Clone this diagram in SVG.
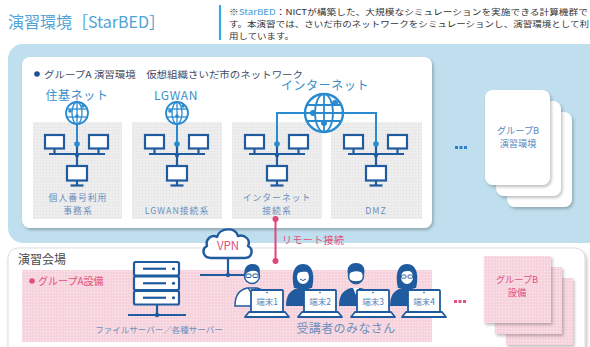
<svg xmlns="http://www.w3.org/2000/svg" width="590" height="347" viewBox="0 0 590 347">
  <defs>
    <style>
      text { font-family: "Noto Sans CJK JP", "Noto Sans", sans-serif; }
      .title { font-size: 16px; fill: #4fa3d6; }
      .note { font-size: 8.2px; fill: #333333; }
      .bullet { font-size: 9.6px; fill: #3b4a66; }
      .netname { font-size: 12px; fill: #3a8fcb; text-anchor: middle; letter-spacing: 0.6px; }
      .plabel { font-size: 8.8px; fill: #6b8fbd; text-anchor: middle; letter-spacing: 1px; }
      .card { font-size: 9.2px; fill: #5a86bd; text-anchor: middle; }
      .pink { fill: #e2507f; }
      .dark { stroke: #1f5b9e; stroke-width: 2.2; fill: #ffffff; }
      .darkline { stroke: #1f5b9e; stroke-width: 2.2; fill: none; }
      .lblue { stroke: #2a8ad0; stroke-width: 2; fill: none; }
      .term { font-size: 8.5px; fill: #4f7fb8; text-anchor: middle; }
    </style>
    <pattern id="dotGray" width="3" height="3" patternUnits="userSpaceOnUse">
      <rect width="3" height="3" fill="#eeeeee"/>
      <circle cx="1.5" cy="1.5" r="0.8" fill="#e2e2e2"/>
    </pattern>
    <pattern id="dotPink" width="3" height="3" patternUnits="userSpaceOnUse">
      <rect width="3" height="3" fill="#f6d2dc"/>
      <circle cx="1.5" cy="1.5" r="0.8" fill="#fbe8ee"/>
    </pattern>
    <filter id="shadow" x="-10%" y="-10%" width="130%" height="130%">
      <feDropShadow dx="1.5" dy="2" stdDeviation="1.5" flood-color="#000000" flood-opacity="0.25"/>
    </filter>
    <!-- three monitors on a bus, centred at x=0 -->
    <g id="lan">
      <line x1="0" y1="146" x2="0" y2="166" class="darkline"/>
      <line x1="-28" y1="154" x2="28" y2="154" class="darkline"/>
      <rect x="-32" y="135" width="19" height="13.5" class="dark"/>
      <line x1="-22.5" y1="148" x2="-22.5" y2="154" class="darkline"/>
      <rect x="12" y="135" width="19" height="13.5" class="dark"/>
      <line x1="21.5" y1="148" x2="21.5" y2="154" class="darkline"/>
      <circle cx="0" cy="155" r="2.2" fill="#1f5b9e"/>
      <rect x="-10" y="166" width="20" height="14.5" class="dark"/>
      <line x1="0" y1="180" x2="0" y2="185.5" class="darkline"/>
      <line x1="-6.5" y1="185.5" x2="6.5" y2="185.5" class="darkline"/>
      <circle cx="0" cy="144" r="2.8" fill="#2a8ad0"/>
    </g>
    <!-- small globe, centred at 0,0 -->
    <g id="globe">
      <circle r="11" fill="#ffffff" stroke="#2a8ad0" stroke-width="1.8"/>
      <ellipse rx="5" ry="11" fill="none" stroke="#2a8ad0" stroke-width="1.3"/>
      <line x1="0" y1="-11" x2="0" y2="11" stroke="#2a8ad0" stroke-width="1.3"/>
      <line x1="-10" y1="-4" x2="10" y2="-4" stroke="#2a8ad0" stroke-width="1.3"/>
      <line x1="-10" y1="4" x2="10" y2="4" stroke="#2a8ad0" stroke-width="1.3"/>
      <circle cx="-7" cy="-2" r="1.8" fill="#2a8ad0"/>
      <circle cx="6" cy="-7" r="1.8" fill="#2a8ad0"/>
      <circle cx="0" cy="3" r="1.8" fill="#2a8ad0"/>
    </g>
    <!-- laptop, screen top-left at 0,0 -->
    <g id="laptop">
      <rect x="0" y="0" width="32" height="22" rx="1" fill="#ffffff" stroke="#1f5b9e" stroke-width="1.8"/>
      <circle cx="16" cy="2.5" r="0.8" fill="#1f5b9e"/>
      <path d="M-2,22 L34,22 L38,27 L-6,27 Z" fill="#ffffff" stroke="#1f5b9e" stroke-width="1.8" stroke-linejoin="round"/>
    </g>
  </defs>

  <!-- heading -->
  <text x="8" y="28" class="title">演習環境［StarBED］</text>
  <line x1="220" y1="5" x2="220" y2="40" stroke="#3aa9dc" stroke-width="2.2"/>
  <text x="229" y="15" class="note" textLength="359" lengthAdjust="spacingAndGlyphs">※<tspan fill="#3a9ad8">StarBED</tspan>：NICTが構築した、大規模なシミュレーションを実施できる計算機群で</text>
  <text x="229" y="27" class="note" textLength="360" lengthAdjust="spacingAndGlyphs">す。本演習では、さいだ市のネットワークをシミュレーションし、演習環境として利</text>
  <text x="229" y="39" class="note" textLength="65" lengthAdjust="spacingAndGlyphs">用しています。</text>

  <!-- StarBED environment area -->
  <g id="starbed">
    <rect x="8" y="44" width="600" height="199" rx="15" fill="#bfdfee"/>
  </g>

  <g id="groupA-env">
    <rect x="22" y="57" width="410" height="171" rx="8" fill="#ffffff" filter="url(#shadow)"/>
    <circle cx="37" cy="74" r="2.8" fill="#1f4f94"/>
    <text x="44" y="78" class="bullet" textLength="259" lengthAdjust="spacingAndGlyphs">グループA 演習環境　仮想組織さいだ市のネットワーク</text>
  </g>

  <g id="seg-juki">
    <rect x="33" y="122" width="89" height="97" fill="url(#dotGray)"/>
    <text x="77" y="100" class="netname">住基ネット</text>
    <line x1="77" y1="124" x2="77" y2="144" class="lblue"/>
    <use href="#globe" x="77" y="113"/>
    <use href="#lan" x="77" y="0"/>
    <text x="78" y="200.5" class="plabel">個人番号利用</text>
    <text x="78" y="213.5" class="plabel">事務系</text>
  </g>

  <g id="seg-lgwan">
    <rect x="132" y="122" width="90" height="97" fill="url(#dotGray)"/>
    <text x="176" y="100" class="netname">LGWAN</text>
    <line x1="177" y1="124" x2="177" y2="144" class="lblue"/>
    <use href="#globe" x="177" y="113"/>
    <use href="#lan" x="177" y="0"/>
    <text x="177" y="213.5" class="plabel" letter-spacing="0.3">LGWAN接続系</text>
  </g>

  <g id="seg-inet">
    <rect x="232" y="122" width="90" height="97" fill="url(#dotGray)"/>
    <use href="#lan" x="277" y="0"/>
    <text x="277" y="200.5" class="plabel">インターネット</text>
    <text x="277" y="213.5" class="plabel">接続系</text>
  </g>

  <g id="seg-dmz">
    <rect x="331" y="122" width="91" height="97" fill="url(#dotGray)"/>
    <use href="#lan" x="376" y="0"/>
    <text x="376" y="213.5" class="plabel" letter-spacing="0.3">DMZ</text>
  </g>

  <g id="internet">
    <text x="325" y="90" class="netname">インターネット</text>
    <path d="M277,142 V113 H376 V142" class="lblue"/>
    <circle cx="324" cy="113" r="19" fill="#ffffff" stroke="#2a8ad0" stroke-width="2.4"/>
    <ellipse cx="324" cy="113" rx="9" ry="19" fill="none" stroke="#2a8ad0" stroke-width="1.8"/>
    <line x1="324" y1="94" x2="324" y2="132" stroke="#2a8ad0" stroke-width="1.8"/>
    <line x1="306" y1="105" x2="342" y2="105" stroke="#2a8ad0" stroke-width="1.8"/>
    <line x1="306" y1="121" x2="342" y2="121" stroke="#2a8ad0" stroke-width="1.8"/>
    <line x1="305" y1="113" x2="343" y2="113" stroke="#2a8ad0" stroke-width="1.8"/>
    <circle cx="313" cy="113" r="3" fill="#2a8ad0"/>
    <circle cx="335" cy="103" r="3" fill="#2a8ad0"/>
    <circle cx="324" cy="123" r="3" fill="#2a8ad0"/>
  </g>

  <!-- ellipsis between groups -->
  <g fill="#2e7fc8">
    <rect x="455" y="146" width="3" height="3"/>
    <rect x="459.5" y="146" width="3" height="3"/>
    <rect x="464" y="146" width="3" height="3"/>
  </g>

  <g id="groupB-env">
    <rect x="507" y="112" width="65" height="95" rx="8" fill="#ffffff" filter="url(#shadow)"/>
    <rect x="496" y="101" width="65" height="95" rx="8" fill="#ffffff" filter="url(#shadow)"/>
    <rect x="485" y="90" width="65" height="95" rx="8" fill="#ffffff" filter="url(#shadow)"/>
    <text x="518" y="133.5" class="card">グループB</text>
    <text x="518" y="147" class="card">演習環境</text>
  </g>

  <!-- venue area -->
  <g id="venue">
    <rect x="8" y="248" width="577" height="110" rx="10" fill="#ffffff" stroke="#dddddd" stroke-width="1" filter="url(#shadow)"/>
    <text x="18" y="264" font-size="12" fill="#4a4a4a">演習会場</text>
  </g>

  <g id="groupA-equip">
    <rect x="22" y="270" width="410" height="72" fill="url(#dotPink)"/>
    <circle cx="32" cy="281" r="2.8" fill="#e2507f"/>
    <text x="38" y="285" font-size="10" class="pink">グループA設備</text>
  </g>

  <g id="servers">
    <rect x="134" y="262" width="45" height="13.5" rx="1.5" class="dark"/>
    <rect x="134" y="276.5" width="45" height="13.5" rx="1.5" class="dark"/>
    <rect x="134" y="291" width="45" height="13.5" rx="1.5" class="dark"/>
    <line x1="143" y1="268.75" x2="166" y2="268.75" class="darkline"/>
    <line x1="143" y1="283.25" x2="166" y2="283.25" class="darkline"/>
    <line x1="143" y1="297.75" x2="166" y2="297.75" class="darkline"/>
    <circle cx="173.5" cy="268.75" r="1.6" fill="#1f5b9e"/>
    <circle cx="173.5" cy="283.25" r="1.6" fill="#1f5b9e"/>
    <circle cx="173.5" cy="297.75" r="1.6" fill="#1f5b9e"/>
    <line x1="157" y1="304.5" x2="157" y2="315" class="darkline"/>
    <line x1="128" y1="315" x2="186" y2="315" class="darkline"/>
    <circle cx="157" cy="315" r="2.2" fill="#1f5b9e"/>
    <text x="159" y="333" font-size="8.5" fill="#6b8fbd" text-anchor="middle">ファイルサーバー／各種サーバー</text>
  </g>

  <g id="vpn">
    <line x1="228" y1="257" x2="228" y2="275" class="darkline"/>
    <line x1="200" y1="275" x2="250" y2="275" class="darkline"/>
    <circle cx="228" cy="275" r="2.2" fill="#1f5b9e"/>
    <path d="M211,258 C203,258 201,249 207,246 C205,239 212,234 217,237 C219,228 235,226 238,236 C245,234 251,240 248,246 C254,249 252,258 245,258 Z" fill="#ffffff" stroke="#1f5b9e" stroke-width="2.4" stroke-linejoin="round"/>
    <text x="228" y="250" font-size="11.5" class="pink" text-anchor="middle">VPN</text>
  </g>

  <!-- connectors -->
  <g id="connectors">
    <line x1="275.5" y1="219" x2="275.5" y2="261" stroke="#e2457a" stroke-width="2"/>
    <circle cx="275.5" cy="219" r="3" fill="#e2457a"/>
    <circle cx="275.5" cy="261" r="3" fill="#e2457a"/>
    <text x="282" y="244" font-size="10" class="pink" letter-spacing="0.4">リモート接続</text>
  </g>

  <!-- attendees -->
  <g id="person1">
    <path d="M235,306 C235,294 240,290 247,288 L257,288 C264,290 269,294 269,306 Z" fill="#ffffff" stroke="#1f5b9e" stroke-width="1.5"/>
    <path d="M248,288 L252,294 L256,288" fill="none" stroke="#1f5b9e" stroke-width="1.3"/>
    <circle cx="252" cy="276" r="7.5" fill="#ffffff" stroke="#1f5b9e" stroke-width="1.5"/>
    <path d="M244.5,275 C243.5,267 248,264 252.5,264 C258,264 261,268 259.5,274 C257,270 250,269 244.5,275 Z" fill="#1f5b9e"/>
    <rect x="246" y="274" width="5" height="3.5" rx="1" fill="none" stroke="#1f5b9e" stroke-width="1"/>
    <rect x="253" y="274" width="5" height="3.5" rx="1" fill="none" stroke="#1f5b9e" stroke-width="1"/>
    <use href="#laptop" x="251" y="290"/>
    <text x="267" y="305" class="term">端末1</text>
  </g>

  <g id="person2">
    <path d="M294,288 C291,276 293,264 303,264 C313,264 315,276 312,288 Z" fill="#1f5b9e"/>
    <path d="M286,306 C286,294 291,290 298,288 L308,288 C315,290 320,294 320,306 Z" fill="#1f5b9e"/>
    <ellipse cx="303" cy="277" rx="6" ry="7" fill="#ffffff"/>
    <path d="M297,274 C298,268 306,266 310,272 C305,272 300,271 297,274 Z" fill="#1f5b9e"/>
    <path d="M300,279 Q303,282 306,279" fill="none" stroke="#1f5b9e" stroke-width="1"/>
    <use href="#laptop" x="304" y="290"/>
    <text x="320" y="305" class="term">端末2</text>
  </g>

  <g id="person3">
    <path d="M339,306 C339,294 344,290 351,288 L361,288 C368,290 373,294 373,306 Z" fill="#1f5b9e"/>
    <path d="M353,288 L356,295 L359,288 Z" fill="#ffffff"/>
    <circle cx="356" cy="276" r="7.5" fill="#ffffff" stroke="#1f5b9e" stroke-width="1.5"/>
    <path d="M348,275 C346,266 351,263 356,263 C362,263 366,267 364,275 C362,270 351,270 348,275 Z" fill="#1f5b9e"/>
    <path d="M349.5,279 C351,286 361,286 362.5,279 C360,282 352,282 349.5,279 Z" fill="#1f5b9e"/>
    <use href="#laptop" x="357" y="290"/>
    <text x="373" y="305" class="term">端末3</text>
  </g>

  <g id="person4">
    <path d="M398,288 C395,276 397,264 407,264 C417,264 419,276 416,288 Z" fill="#1f5b9e"/>
    <path d="M390,306 C390,294 395,290 402,288 L412,288 C419,290 424,294 424,306 Z" fill="#1f5b9e"/>
    <ellipse cx="407" cy="277" rx="6" ry="7" fill="#ffffff"/>
    <path d="M401,274 C402,268 410,266 414,272 C409,271 404,270 401,274 Z" fill="#1f5b9e"/>
    <rect x="401.5" y="275" width="4.5" height="3.2" rx="1" fill="none" stroke="#1f5b9e" stroke-width="0.9"/>
    <rect x="408" y="275" width="4.5" height="3.2" rx="1" fill="none" stroke="#1f5b9e" stroke-width="0.9"/>
    <use href="#laptop" x="408" y="290"/>
    <text x="424" y="305" class="term">端末4</text>
  </g>

  <text x="346" y="333" font-size="12" fill="#6b8fbd" text-anchor="middle" letter-spacing="0.4">受講者のみなさん</text>

  <g fill="#e2507f">
    <rect x="454" y="300" width="3" height="3"/>
    <rect x="458.5" y="300" width="3" height="3"/>
    <rect x="463" y="300" width="3" height="3"/>
  </g>

  <g id="groupB-equip">
    <rect x="506" y="278" width="67" height="67" fill="url(#dotPink)" filter="url(#shadow)"/>
    <rect x="495" y="267" width="67" height="67" fill="url(#dotPink)" filter="url(#shadow)"/>
    <rect x="484" y="256" width="67" height="67" fill="url(#dotPink)" filter="url(#shadow)"/>
    <text x="517" y="282.5" font-size="9.2" class="pink" text-anchor="middle">グループB</text>
    <text x="517" y="296" font-size="9.2" class="pink" text-anchor="middle">設備</text>
  </g>
</svg>
